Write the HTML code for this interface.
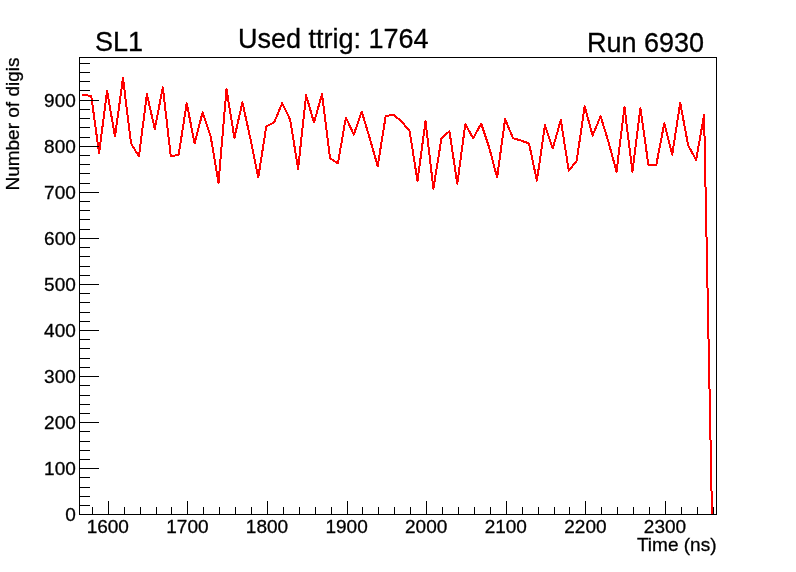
<!DOCTYPE html>
<html><head><meta charset="utf-8"><title>SL1 Run 6930</title>
<style>
html,body{margin:0;padding:0;background:#fff;}
body{width:796px;height:572px;overflow:hidden;}
svg{display:block;}
text{font-family:"Liberation Sans",sans-serif;fill:#000;stroke:#000;stroke-width:0.3px;}
</style></head><body>
<svg width="796" height="572" viewBox="0 0 796 572">
<rect width="796" height="572" fill="#fff"/>
<polyline points="82.2,95.2 91.2,95.7 99.1,153.2 107.1,91.0 115.0,136.5 123.0,78.0 131.0,143.4 138.9,156.4 146.9,94.3 154.8,129.0 162.8,87.3 170.8,156.4 178.7,154.6 186.7,103.1 194.6,143.4 202.6,112.4 210.6,136.0 218.5,182.8 226.5,89.2 234.4,137.9 242.4,102.2 250.4,138.8 258.3,177.3 266.3,126.3 274.2,122.3 282.2,103.1 290.2,119.8 298.1,168.7 306.1,95.2 314.0,122.6 322.0,94.3 330.0,158.0 337.9,163.4 345.9,117.5 353.8,134.6 361.8,111.6 369.8,138.5 377.7,166.1 385.7,116.1 393.6,114.7 401.6,121.6 409.6,130.9 417.5,181.0 425.5,121.2 433.4,188.6 441.4,138.8 449.4,131.1 457.3,183.8 465.3,124.2 473.2,138.3 481.2,123.5 489.2,147.6 497.1,177.5 505.1,119.3 513.0,138.1 521.0,140.6 529.0,143.4 536.9,180.7 544.9,125.3 552.8,148.5 560.8,120.0 568.8,170.8 576.7,160.7 584.7,106.3 592.6,135.5 600.6,116.3 608.6,142.3 616.5,171.8 624.5,107.0 632.4,171.8 640.4,108.2 648.4,164.9 656.3,164.9 664.3,123.2 672.2,154.6 680.2,102.8 688.2,145.4 696.1,159.9 704.1,115.1 712.0,514.8" fill="none" stroke="#f00" stroke-width="2" stroke-linejoin="round" shape-rendering="crispEdges"/>
<path d="M79.0 57.5H717.0M79.0 514.5H717.0M79.5 57.5V514.5M716.5 57.5V514.5M92.5 514.5v-8M108.5 514.5v-14M124.5 514.5v-8M140.5 514.5v-8M156.5 514.5v-8M171.5 514.5v-8M187.5 514.5v-14M203.5 514.5v-8M219.5 514.5v-8M235.5 514.5v-8M251.5 514.5v-8M267.5 514.5v-14M283.5 514.5v-8M299.5 514.5v-8M315.5 514.5v-8M331.5 514.5v-8M347.5 514.5v-14M362.5 514.5v-8M378.5 514.5v-8M394.5 514.5v-8M410.5 514.5v-8M426.5 514.5v-14M442.5 514.5v-8M458.5 514.5v-8M474.5 514.5v-8M490.5 514.5v-8M506.5 514.5v-14M522.5 514.5v-8M538.5 514.5v-8M554.5 514.5v-8M569.5 514.5v-8M585.5 514.5v-14M601.5 514.5v-8M617.5 514.5v-8M633.5 514.5v-8M649.5 514.5v-8M665.5 514.5v-14M681.5 514.5v-8M697.5 514.5v-8M713.5 514.5v-8M79.5 514.5h19M79.5 505.5h10M79.5 496.5h10M79.5 487.5h10M79.5 477.5h10M79.5 468.5h19M79.5 459.5h10M79.5 450.5h10M79.5 441.5h10M79.5 431.5h10M79.5 422.5h19M79.5 413.5h10M79.5 404.5h10M79.5 395.5h10M79.5 385.5h10M79.5 376.5h19M79.5 367.5h10M79.5 358.5h10M79.5 348.5h10M79.5 339.5h10M79.5 330.5h19M79.5 321.5h10M79.5 312.5h10M79.5 302.5h10M79.5 293.5h10M79.5 284.5h19M79.5 275.5h10M79.5 266.5h10M79.5 256.5h10M79.5 247.5h10M79.5 238.5h19M79.5 229.5h10M79.5 219.5h10M79.5 210.5h10M79.5 201.5h10M79.5 192.5h19M79.5 183.5h10M79.5 173.5h10M79.5 164.5h10M79.5 155.5h10M79.5 146.5h19M79.5 137.5h10M79.5 127.5h10M79.5 118.5h10M79.5 109.5h10M79.5 100.5h19M79.5 90.5h10M79.5 81.5h10M79.5 72.5h10M79.5 63.5h10" stroke="#000" stroke-width="1" fill="none" shape-rendering="crispEdges"/>
<text x="107.8" y="533" text-anchor="middle" font-size="19">1600</text>
<text x="187.4" y="533" text-anchor="middle" font-size="19">1700</text>
<text x="267.0" y="533" text-anchor="middle" font-size="19">1800</text>
<text x="346.6" y="533" text-anchor="middle" font-size="19">1900</text>
<text x="426.2" y="533" text-anchor="middle" font-size="19">2000</text>
<text x="505.8" y="533" text-anchor="middle" font-size="19">2100</text>
<text x="585.4" y="533" text-anchor="middle" font-size="19">2200</text>
<text x="665.0" y="533" text-anchor="middle" font-size="19">2300</text>
<text x="75.8" y="521" text-anchor="end" font-size="19">0</text>
<text x="75.8" y="475" text-anchor="end" font-size="19">100</text>
<text x="75.8" y="429" text-anchor="end" font-size="19">200</text>
<text x="75.8" y="383" text-anchor="end" font-size="19">300</text>
<text x="75.8" y="337" text-anchor="end" font-size="19">400</text>
<text x="75.8" y="291" text-anchor="end" font-size="19">500</text>
<text x="75.8" y="245" text-anchor="end" font-size="19">600</text>
<text x="75.8" y="199" text-anchor="end" font-size="19">700</text>
<text x="75.8" y="153" text-anchor="end" font-size="19">800</text>
<text x="75.8" y="107" text-anchor="end" font-size="19">900</text>
<text x="716.5" y="551" text-anchor="end" font-size="19">Time (ns)</text>
<text transform="translate(19,57.5) rotate(-90)" text-anchor="end" font-size="19">Number of digis</text>
<text x="95" y="50.5" font-size="27">SL1</text>
<text x="238" y="47.6" font-size="27">Used ttrig: 1764</text>
<text x="587" y="51.8" font-size="27">Run 6930</text>
</svg>
</body></html>
